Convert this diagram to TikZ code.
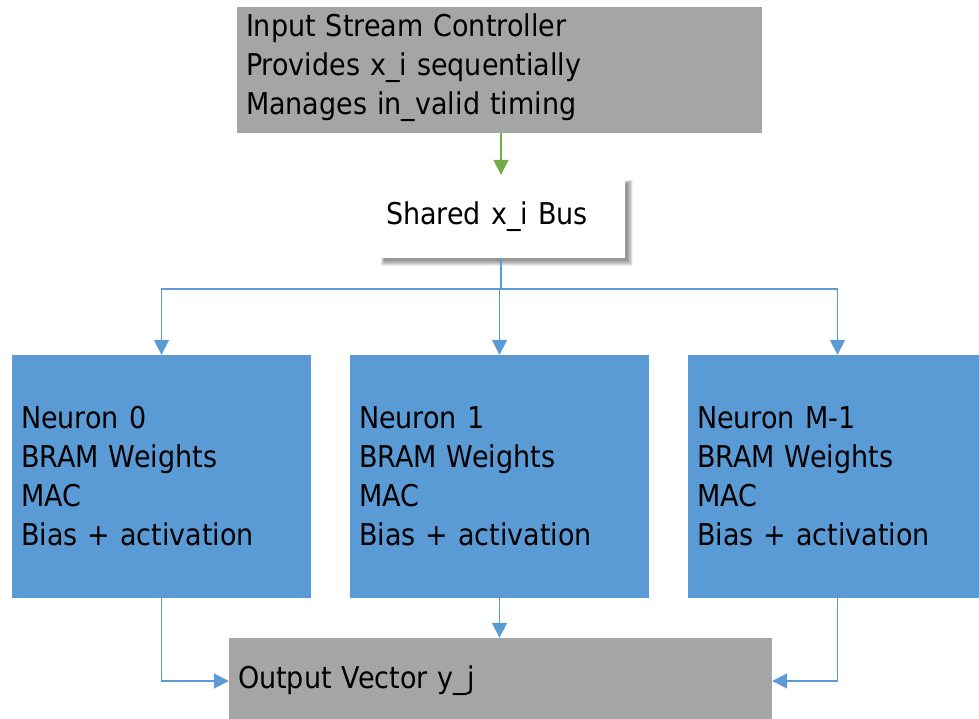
\documentclass[tikz,border=0pt]{standalone}
\usepackage{fontspec}
\setmainfont{DejaVu Sans}[FakeStretch=0.9]
\usetikzlibrary{arrows.meta,calc}
\definecolor{boxgray}{HTML}{A5A5A5}
\definecolor{neuronblue}{HTML}{5B9BD5}
\definecolor{wireblue}{HTML}{5B9BD5}
\definecolor{feedgreen}{HTML}{70AD47}
\tikzset{
  block/.style={rectangle, draw=none, inner xsep=9pt, inner ysep=0pt, align=left,
    font=\fontsize{30}{39}\selectfont, text=black},
  graybox/.style={block, fill=boxgray},
  neuronbox/.style={block, fill=neuronblue, minimum width=299pt, minimum height=243pt, text width=281pt},
  wire/.style={draw=wireblue, line width=1.8pt, -{Triangle[width=15pt,length=15pt]}},
  feed/.style={draw=feedgreen, line width=1.8pt, -{Triangle[width=15pt,length=15pt]}}
}
\begin{document}
\begin{tikzpicture}[x=1pt,y=-1pt]
  \useasboundingbox (0,0) rectangle (979,719);

  % input stream controller (text sits a little above centre)
  \node[graybox, minimum width=525pt, minimum height=126pt, text width=507pt] (ctrl) at (499.5,70)
    {Input Stream Controller\\Provides x\_i sequentially\\Manages in\_valid timing\rule[-11pt]{0pt}{0pt}};

  % soft shadow under the shared bus box
  \foreach \k in {0,...,9} {
    \fill[black, opacity=0.05] (381+\k*0.4,180+\k*0.4) rectangle (633-\k*0.6,266-\k*0.6);
  }
  \node[block, fill=white, minimum width=248pt, minimum height=83pt, text width=230pt] (bus) at (501,216.5)
    {Shared x\_i Bus};

  % neurons
  \node[neuronbox] (n0) at (161.5,476.5) {Neuron 0\\BRAM Weights\\MAC\\Bias + activation};
  \node[neuronbox] (n1) at (499.5,476.5) {Neuron 1\\BRAM Weights\\MAC\\Bias + activation};
  \node[neuronbox] (n2) at (837.5,476.5) {Neuron M-1\\BRAM Weights\\MAC\\Bias + activation};

  % output vector
  \node[graybox, minimum width=543pt, minimum height=86pt, text width=525pt] (out) at (500.5,681)
    {Output Vector y\_j};

  % connectors
  \draw[feed] (ctrl.south -| bus.north) -- (bus.north);
  \coordinate (split) at ($(bus.south)+(0,31)$);
  \draw[draw=wireblue, line width=1.8pt] (bus.south) -- (split);
  \draw[wire] (split) -| (n0.north);
  \draw[wire] (split) -- (split -| n1.north) -- (n1.north);
  \draw[wire] (split) -| (n2.north);
  \draw[wire] (n0.south) |- (out.west);
  \draw[wire] (n1.south) -- (n1.south |- out.north);
  \draw[wire] (n2.south) |- (out.east);
\end{tikzpicture}
\end{document}
